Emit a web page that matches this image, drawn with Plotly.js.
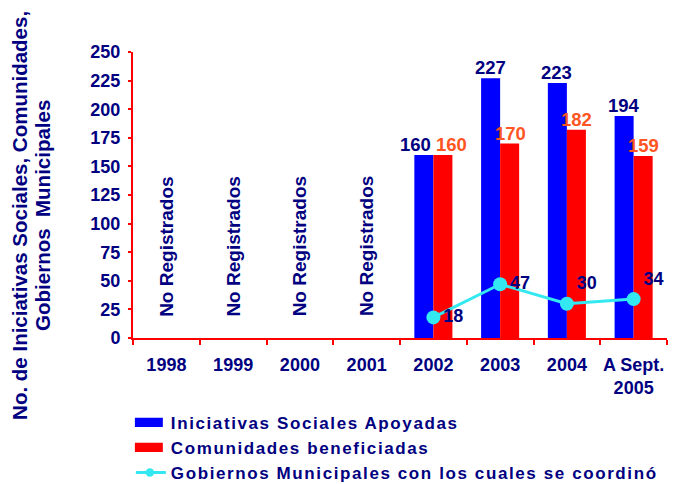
<!DOCTYPE html>
<html>
<head>
<meta charset="utf-8">
<script src="https://cdn.plot.ly/plotly-3.0.1.min.js"></script>
<style>
html,body{margin:0;padding:0;background:#fff;}
#chart{width:675px;height:484px;}
.legendtext{letter-spacing:1.6px;}
#chart .legend .legendpoints path:not(.scatterpts){transform:translate(18px,0px) scale(2.33,0.78);}
#chart .legend path.scatterpts{transform:translate(19px,0px) scale(0.6);}
</style>
</head>
<body>
<div id="chart"></div>
<script>
var categories = ['1998', '1999', '2000', '2001', '2002', '2003', '2004', 'A Sept.<br>2005'];
var iniciativas = [null, null, null, null, 160, 227, 223, 194];
var comunidades = [null, null, null, null, 160, 170, 182, 159];
var gobiernos = [null, null, null, null, 18, 47, 30, 34];
var seriesNames = ['Iniciativas Sociales Apoyadas', 'Comunidades beneficiadas', 'Gobiernos Municipales con los cuales se coordinó'];
var noDataLabel = 'No Registrados';
var yTitleLines = ['No. de Iniciativas Sociales, Comunidades,', 'Gobiernos  Municipales'];

var NAVY = '#000080';
var ORANGE = '#ff5522';
var CYAN = '#33e8f0';
var FONT = 'Liberation Sans, Arial, sans-serif';

var traces = [
  {type: 'bar', x: categories, y: iniciativas, name: seriesNames[0],
   marker: {color: '#0000ff'}, hoverinfo: 'y'},
  {type: 'bar', x: categories, y: comunidades, name: seriesNames[1],
   marker: {color: '#ff0000'}, hoverinfo: 'y'},
  {type: 'scatter', mode: 'lines+markers+text', x: categories, y: gobiernos, name: seriesNames[2],
   line: {color: CYAN, width: 3}, marker: {color: CYAN, size: 14},
   text: gobiernos.map(function(v){ return v === null ? '' : String(v); }),
   textposition: ['middle right','middle right','middle right','middle right','middle right','middle right','top right','top right'],
   textfont: {family: FONT, size: 18, color: NAVY, weight: 'bold'},
   cliponaxis: false, connectgaps: false}
];

var annotations = [];
categories.forEach(function(c, i){
  var a = iniciativas[i], b = comunidades[i];
  if (a === null) {
    annotations.push({x: i, y: 80, xref: 'x', yref: 'y', text: noDataLabel, textangle: -90,
      showarrow: false, xanchor: 'center', yanchor: 'middle',
      font: {family: FONT, size: 19, color: NAVY, weight: 'bold'}});
  } else {
    var extra = Math.abs(a - b) < 15 ? 8 : 0;
    annotations.push({x: i, y: a, xref: 'x', yref: 'y', text: String(a), showarrow: false,
      xanchor: 'center', yanchor: 'bottom', xshift: -10 - extra, yshift: -2,
      font: {family: FONT, size: 18.5, color: NAVY, weight: 'bold'}});
    annotations.push({x: i, y: b, xref: 'x', yref: 'y', text: String(b), showarrow: false,
      xanchor: 'center', yanchor: 'bottom', xshift: 10 + extra, yshift: -2,
      font: {family: FONT, size: 18.5, color: ORANGE, weight: 'bold'}});
  }
});
yTitleLines.forEach(function(t, k){
  annotations.push({x: 0, y: 0.427, xref: 'paper', yref: 'paper', text: t, textangle: -90,
    showarrow: false, xanchor: 'center', yanchor: 'middle', xshift: -113 + 23 * k,
    font: {family: FONT, size: 20.5, color: NAVY, weight: 'bold'}});
});

var layout = {
  width: 675, height: 484,
  margin: {l: 133, r: 8, t: 52, b: 146, autoexpand: false},
  paper_bgcolor: '#fff', plot_bgcolor: '#fff',
  barmode: 'group', bargap: 0.43, bargroupgap: 0,
  showlegend: true,
  legend: {x: -0.004, xanchor: 'left', y: -0.2335, yanchor: 'top', orientation: 'v',
    font: {family: FONT, size: 17, color: NAVY, weight: 'bold'}, bgcolor: 'rgba(0,0,0,0)',
    tracegroupgap: 0},
  xaxis: {type: 'category', categoryorder: 'array', categoryarray: categories,
    range: [-0.5, 7.5], autorange: false, automargin: false, tickangle: 0,
    showline: true, linecolor: '#ff0000', linewidth: 2,
    ticks: 'outside', tickson: 'boundaries', ticklen: 5, tickcolor: '#ff0000', tickwidth: 2,
    showgrid: false, zeroline: false, ticklabelstandoff: 9,
    tickfont: {family: FONT, size: 18, color: NAVY, weight: 'bold'}},
  yaxis: {range: [0, 250], dtick: 25, autorange: false, automargin: false,
    showline: true, linecolor: '#ff0000', linewidth: 2,
    ticks: 'outside', ticklen: 3, tickcolor: '#ff0000', tickwidth: 2,
    showgrid: false, zeroline: false, ticklabelstandoff: 4,
    tickfont: {family: FONT, size: 18, color: NAVY, weight: 'bold'}},
  yaxis2: {overlaying: 'y', anchor: 'x', side: 'left', range: [0, 250], dtick: 25,
    autorange: false, automargin: false, showline: false,
    ticks: 'inside', ticklen: 5, tickcolor: '#ff0000', tickwidth: 2,
    showticklabels: false, showgrid: false, zeroline: false},
  annotations: annotations
};

Plotly.newPlot('chart', traces, layout, {displayModeBar: false, staticPlot: true});
</script>
</body>
</html>
